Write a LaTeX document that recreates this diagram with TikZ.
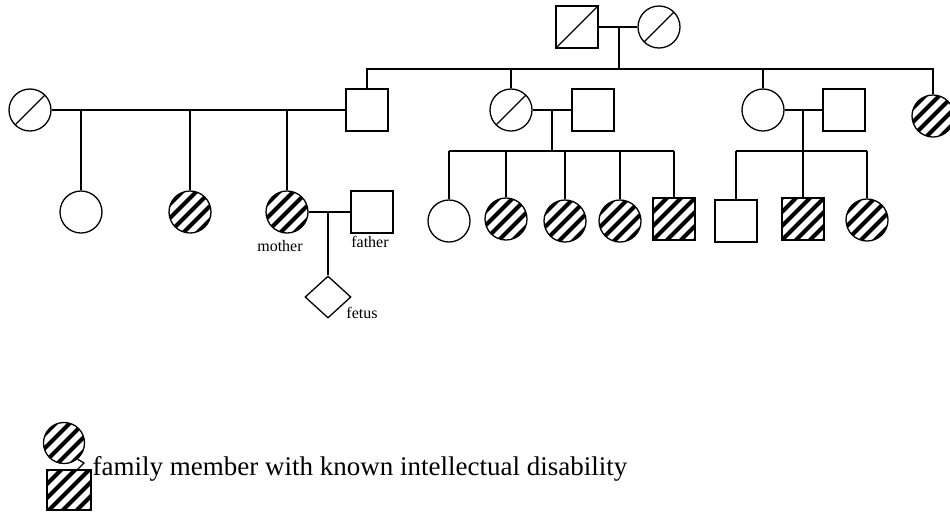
\documentclass[tikz,border=0pt]{standalone}
\usepackage{fontspec}
\setmainfont{Liberation Serif}
\usetikzlibrary{calc,shapes.geometric}
\newcommand{\Lbl}{\fontsize{16}{18}\selectfont}
\newcommand{\Key}{\fontsize{27}{30}\selectfont}

\begin{document}
\begin{tikzpicture}[x=1pt,y=-1pt,line width=1.3pt,
    male/.style={draw, rectangle, minimum size=42pt, inner sep=0pt},
    female/.style={draw, circle, minimum size=42pt, inner sep=0pt},
    dead/.style={path picture={\draw[line width=1.3pt] (path picture bounding box.south west) -- (path picture bounding box.north east);}},
    affected/.style={path picture={\foreach \k in {-3,...,3}{
        \draw[line width=4pt] ($(path picture bounding box.center)+(\k*14pt-30pt,-30pt)$) -- ++(60pt,60pt);}}},
    fetusbox/.style={draw, diamond, minimum width=46pt, minimum height=42pt, inner sep=0pt}]
  \useasboundingbox (0,0) rectangle (950,515);

  % grandparents
  \node[male,dead] (gpa) at (577,27) {};
  \node[female,dead] (gma) at (659,27) {};
  \draw (gpa) -- (gma);
  \coordinate (gdrop) at (619,69);
  \draw (gdrop |- gpa.east) -- (gdrop);

  % their children
  \node[male] (son) at (367,110) {};
  \node[female,dead] (aunt) at (511,110) {};
  \node[female] (aunt2) at (763,110) {};
  \node[female,affected] (aunt3) at (933,116) {};
  \draw (son.north) |- (gdrop) -| (aunt3.north);
  \foreach \c in {aunt,aunt2}
    \draw (\c.north) -- (\c.north |- gdrop);

  % son's family
  \node[female,dead] (sonwife) at (30,110) {};
  \draw (sonwife) -- (son);
  \node[female] (cous1) at (81,212) {};
  \node[female,affected] (cous2) at (190,212) {};
  \node[female,affected] (mother) at (287,212) {};
  \foreach \c in {cous1,cous2,mother}
    \draw (\c.north) -- (\c.north |- son.west);

  % the couple and the fetus
  \node[male] (father) at (372,212) {};
  \draw (mother) -- (father);
  \node[fetusbox] (fetus) at (328,297) {};
  \draw (fetus.north) -- (fetus.north |- mother.east);
  \node[font=\Lbl, anchor=base] (mlbl) at (280,251) {mother};
  \node[font=\Lbl, anchor=base] (flbl) at (370,247) {father};
  \node[font=\Lbl, anchor=base] (fetlbl) at (362,318) {fetus};

  % first aunt's family
  \node[male] (uncle) at (593,110) {};
  \draw (aunt) -- (uncle);
  \coordinate (adrop) at (552,151);
  \draw (adrop |- aunt.east) -- (adrop);
  \node[female] (g1) at (449,221) {};
  \node[female,affected] (g2) at (506,219) {};
  \node[female,affected] (g3) at (565,221) {};
  \node[female,affected] (g4) at (620,221) {};
  \node[male,affected] (g5) at (674,219) {};
  \draw (g1.north |- adrop) -- (g5.north |- adrop);
  \foreach \c in {g1,g2,g3,g4,g5}
    \draw (\c.north) -- (\c.north |- adrop);

  % second aunt's family
  \node[male] (uncle2) at (844,110) {};
  \draw (aunt2) -- (uncle2);
  \coordinate (bdrop) at (803,151);
  \draw (bdrop |- aunt2.east) -- (bdrop);
  \node[male] (k1) at (736,221) {};
  \node[male,affected] (k2) at (803,219) {};
  \node[female,affected] (k3) at (867,220) {};
  \draw (k1.north |- bdrop) -- (k3.north |- bdrop);
  \foreach \c in {k1,k2,k3}
    \draw (\c.north) -- (\c.north |- bdrop);

  % key
  \node[female,affected,minimum size=41pt] (keyf) at (64,443) {};
  \node[male,affected,minimum width=44pt,minimum height=40pt] (keym) at (69,490) {};
  \coordinate (keyhook) at (84,463);
  \draw (keyf.-50) -- (keyhook) -- ([xshift=-14pt]keym.north east);
  \node[font=\Key, anchor=base west, inner sep=0pt] (keytxt) at (92,475) {family member with known intellectual disability};
\end{tikzpicture}
\end{document}
